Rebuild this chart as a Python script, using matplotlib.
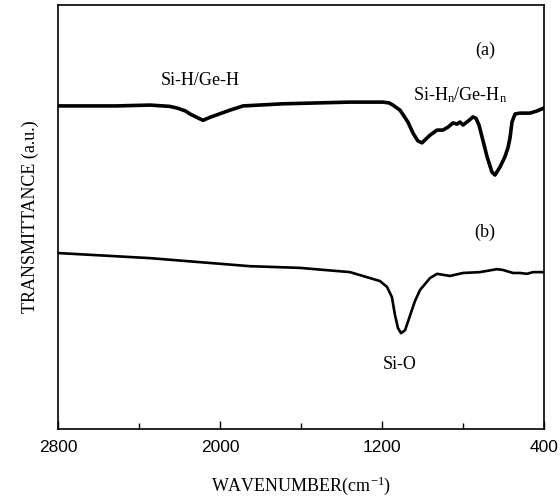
import matplotlib.pyplot as plt

plt.rcParams['mathtext.fontset'] = 'custom'
plt.rcParams['mathtext.rm'] = 'Liberation Serif'
plt.rcParams['mathtext.it'] = 'Liberation Serif:italic'

# Spectrum (a): wavenumber (cm-1) and transmittance (a.u.)
wn_a = [2800, 2509, 2346, 2250, 2212, 2170, 2148, 2110, 2084, 2050, 2015, 1951,
        1886, 1689, 1358, 1195, 1165, 1146, 1111, 1072, 1047, 1022, 1002, 983,
        963, 928, 899, 874, 849, 830, 815, 800, 775, 751, 736, 721, 706, 681,
        657, 642, 617, 593, 578, 568, 558, 543, 519, 469, 435, 400]
t_a = [76.2, 76.2, 76.4, 76.1, 75.7, 75.0, 74.3, 73.4, 72.8, 73.5, 74.1, 75.2,
       76.2, 76.7, 77.1, 77.1, 76.9, 76.4, 75.2, 72.4, 69.8, 67.9, 67.5, 68.4,
       69.3, 70.5, 70.5, 71.2, 72.2, 71.9, 72.4, 71.7, 72.6, 73.6, 73.3, 71.7, 68.9, 64.2,
       60.6, 59.9, 61.8, 64.2, 66.3, 68.6, 72.4, 74.3, 74.5, 74.5, 75.0, 75.7]

# Spectrum (b)
wn_b = [2800, 2346, 1852, 1605, 1358, 1274, 1210, 1175, 1151, 1136, 1121, 1106,
        1086, 1062, 1037, 1012, 963, 928, 864, 800, 716, 632, 602, 553, 519,
        484, 454, 400]
t_b = [41.5, 40.3, 38.4, 38.0, 37.0, 35.8, 34.9, 33.5, 31.1, 26.9, 23.8, 22.6,
       23.3, 26.7, 30.2, 32.8, 35.6, 36.6, 36.1, 36.8, 37.0, 37.7, 37.5, 36.8, 36.8,
       36.6, 37.0, 37.0]

major_ticks = [2800, 2000, 1200, 400]
minor_ticks = [2400, 1600, 800]

serif = 'Liberation Serif'

fig = plt.figure(figsize=(5.6, 5.01), dpi=100)
ax = fig.add_axes([0.1036, 0.1437, 0.8678, 0.8463])

ax.plot(wn_a, t_a, color='black', lw=2.6, solid_joinstyle='round')
ax.plot(wn_b, t_b, color='black', lw=1.9, solid_joinstyle='round')

ax.set_xlim(2800, 400)
ax.set_ylim(0, 100)
ax.set_xticks(major_ticks)
ax.set_xticks(minor_ticks, minor=True)
ax.tick_params(axis='x', which='major', direction='in', length=6, width=1,
               labelsize=12.5, pad=8)
ax.tick_params(axis='x', which='minor', direction='in', length=4, width=1)
ax.set_yticks([])
for lbl in ax.get_xticklabels():
    lbl.set_family('Liberation Sans')
for s in ax.spines.values():
    s.set_linewidth(1.2)

ax.set_xlabel('WAVENUMBER(cm$^{\\mathregular{-1}}$)', family=serif, fontsize=13, labelpad=14)
ax.set_ylabel('TRANSMITTANCE (a.u.)', family=serif, fontsize=13, labelpad=14)

ax.text(2099, 82.3, 'Si-H/Ge-H', family=serif, fontsize=13, ha='center', va='center')
ax.text(691, 89.4, '(a)', family=serif, fontsize=13, ha='center', va='center')
ax.text(815, 78.8, 'Si-H$_\\mathregular{n}$/Ge-H$_\\mathregular{n}$', family=serif,
        fontsize=13, ha='center', va='center')
ax.text(691, 46.5, '(b)', family=serif, fontsize=13, ha='center', va='center')
ax.text(1111, 15.3, 'Si-O', family=serif, fontsize=13, ha='center', va='center')

fig.savefig('out.png', dpi=100)
